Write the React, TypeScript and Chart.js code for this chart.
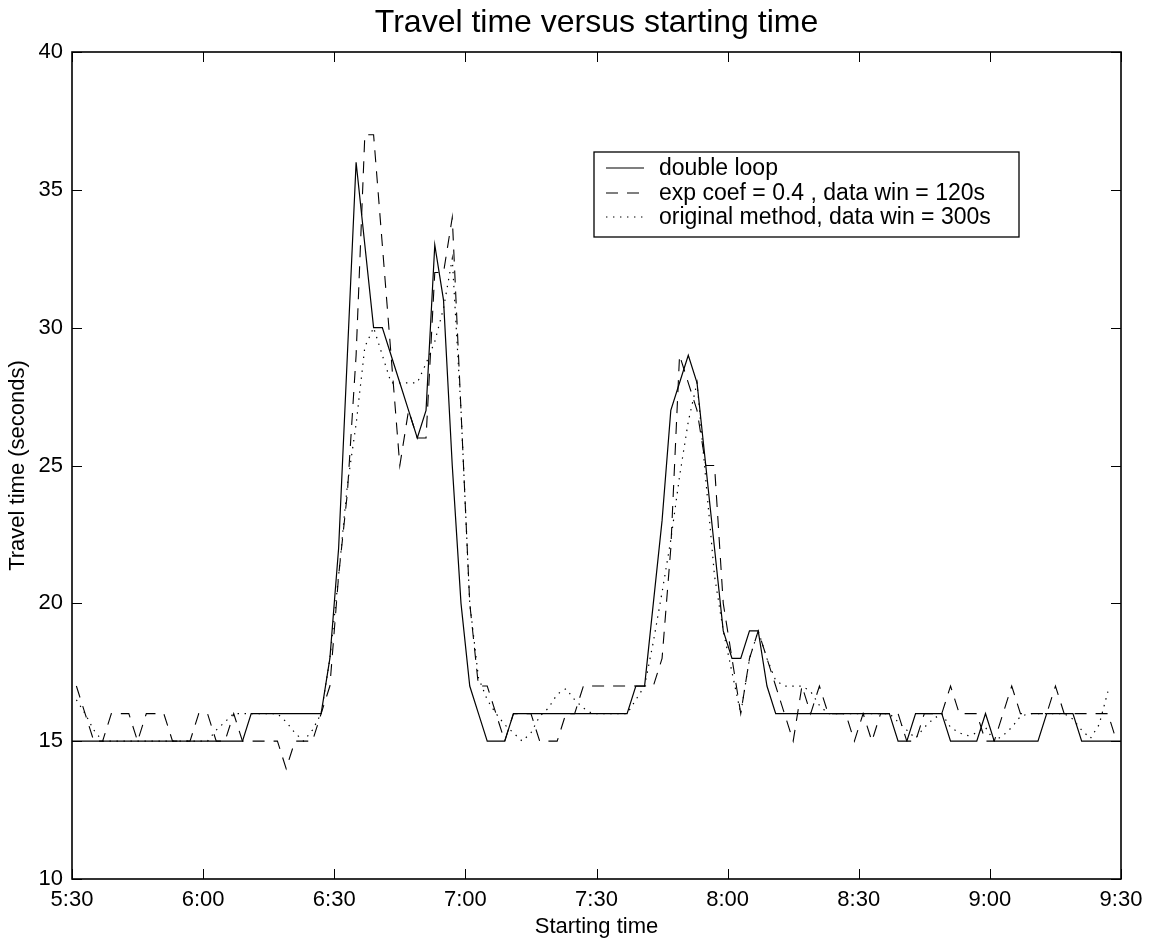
import React, { useEffect, useRef } from "react";
import { Chart, registerables } from "chart.js";

Chart.register(...registerables);

const FONT = "'Liberation Sans', Arial, Helvetica, sans-serif";
const TITLE = "Travel time versus starting time";
const X_TITLE = "Starting time";
const Y_TITLE = "Travel time (seconds)";

// sample times (every two minutes)
const times = [
  "5:29","5:31","5:33","5:35","5:37","5:39","5:41","5:43","5:45","5:47","5:49","5:51","5:53","5:55","5:57","5:59",
  "6:01","6:03","6:05","6:07","6:09","6:11","6:13","6:15","6:17","6:19","6:21","6:23","6:25","6:27","6:29",
  "6:31","6:33","6:35","6:37","6:39","6:41","6:43","6:45","6:47","6:49","6:51","6:53","6:55","6:57","6:59",
  "7:01","7:03","7:05","7:07","7:09","7:11","7:13","7:15","7:17","7:19","7:21","7:23","7:25","7:27","7:29",
  "7:31","7:33","7:35","7:37","7:39","7:41","7:43","7:45","7:47","7:49","7:51","7:53","7:55","7:57","7:59",
  "8:01","8:03","8:05","8:07","8:09","8:11","8:13","8:15","8:17","8:19","8:21","8:23","8:25","8:27","8:29",
  "8:31","8:33","8:35","8:37","8:39","8:41","8:43","8:45","8:47","8:49","8:51","8:53","8:55","8:57","8:59",
  "9:01","9:03","9:05","9:07","9:09","9:11","9:13","9:15","9:17","9:19","9:21","9:23","9:25","9:27","9:29","9:31"
];

const doubleLoop = [
  15,
  15,15,15,15,15,15,15,15,15,15,15,15,15,15,15,15,15,15,15,15,
  16,16,16,16,16,16,16,16,16,
  18,22,29,36,33,30,30,29,28,27,26,27,33,31,25,20,17,16,15,15,15,16,
  16,16,16,16,16,16,16,16,16,16,16,16,16,
  17,17,20,23,27,28,29,28,25,22,19,18,18,19,19,17,16,
  16,16,16,16,16,16,16,16,16,16,16,16,16,
  15,15,16,16,16,16,15,15,15,15,16,15,15,15,15,15,15,16,16,16,16,15,15,15,15,15,15
];

const expCoef = [
  null,
  17,16,15,15,16,16,16,15,16,16,16,15,15,15,16,16,15,15,16,15,15,15,15,15,14,15,15,15,16,
  17,21,24,29,37,37,33,29,25,27,26,26,32,32,34,27,20,17,17,16,15,16,
  16,16,15,15,15,16,16,17,17,17,17,17,17,
  17,17,17,18,22,29,28,27,25,25,20,18,16,18,19,18,17,
  16,15,17,16,17,16,16,16,15,16,15,16,16,
  16,15,15,16,16,16,17,16,16,16,15,15,16,17,16,16,16,16,17,16,16,16,16,16,16,15,null
];

const originalMethod = [
  null,
  16.5,16,15.4,15,15,15,15,15,15,15,15,15,15,15,15,15,15.4,15.7,16,16,16,16,16,16,15.7,15.3,15,15.4,16,
  18,21,24.3,26.5,29.3,30,29,28,28,28,28,28.7,29.5,30.7,32.5,27,20,17.3,16.5,16,15.6,15.3,
  15,15.3,15.9,16.2,16.7,16.9,16.5,16.2,16,16,16,16,16,
  16.5,17,18.6,20.4,22.3,24.6,26.6,28,24.5,21,19,17.5,16,18,19,18,17.2,
  17,17,17,16.8,16.3,16,16,16,16,16,16,16,16,
  15.7,15.4,15.1,15.5,15.8,16,15.5,15.3,15.2,15.3,15.5,15,15.2,15.5,15.9,16,16,16,16,16,15.8,15.4,15.1,15.6,16.8,null,null
];

const xTickLabels = ["5:30", "6:00", "6:30", "7:00", "7:30", "8:00", "8:30", "9:00", "9:30"];
const yTickValues = [10, 15, 20, 25, 30, 35, 40];
const legendLabels = [
  "double loop",
  "exp coef = 0.4 , data win = 120s",
  "original method, data win = 300s",
];

const START = "5:30";

function toMinutes(t: string): number {
  const [h, m] = t.split(":").map(Number);
  return h * 60 + m;
}

const x0 = toMinutes(START);
const xTickValues = xTickLabels.map((t) => toMinutes(t) - x0);

function series(vals: (number | null)[]) {
  return times.map((t, i) => ({ x: toMinutes(t) - x0, y: vals[i] }));
}

const DASHES: number[][] = [[], [12, 9], [1.4, 5.6]];
const WIDTHS = [1.2, 1.1, 1.2];

const titlePlugin = {
  id: "customTitle",
  afterDraw(chart: any) {
    const { ctx, chartArea } = chart;
    ctx.save();
    ctx.font = `32px ${FONT}`;
    ctx.fillStyle = "#000";
    ctx.textAlign = "center";
    ctx.textBaseline = "alphabetic";
    ctx.fillText(TITLE, (chartArea.left + chartArea.right) / 2, 32);
    ctx.restore();
  },
};

const framePlugin = {
  id: "frameTicks",
  afterDatasetsDraw(chart: any) {
    const { ctx, chartArea, scales } = chart;
    const { left, right, top, bottom } = chartArea;
    const xs = scales.x;
    const ys = scales.y;
    ctx.save();
    ctx.strokeStyle = "#000";
    ctx.lineWidth = 1;
    ctx.setLineDash([]);
    ctx.beginPath();
    xTickValues.forEach((v) => {
      const px = Math.round(xs.getPixelForValue(v)) + 0.5;
      ctx.moveTo(px, bottom);
      ctx.lineTo(px, bottom - 10);
      ctx.moveTo(px, top);
      ctx.lineTo(px, top + 10);
    });
    yTickValues.forEach((v) => {
      const py = Math.round(ys.getPixelForValue(v)) + 0.5;
      ctx.moveTo(left, py);
      ctx.lineTo(left + 10, py);
      ctx.moveTo(right, py);
      ctx.lineTo(right - 10, py);
    });
    ctx.stroke();
    ctx.lineWidth = 1.6;
    ctx.strokeRect(left, top, right - left, bottom - top);
    ctx.restore();
  },
};

const legendPlugin = {
  id: "boxLegend",
  afterDraw(chart: any) {
    const { ctx } = chart;
    const bx = 594, by = 152, bw = 425, bh = 85;
    ctx.save();
    ctx.fillStyle = "#fff";
    ctx.fillRect(bx, by, bw, bh);
    ctx.strokeStyle = "#000";
    ctx.lineWidth = 1.3;
    ctx.setLineDash([]);
    ctx.strokeRect(bx, by, bw, bh);
    const rows = [168, 193, 217];
    legendLabels.forEach((label, i) => {
      ctx.beginPath();
      ctx.setLineDash(DASHES[i]);
      ctx.lineWidth = WIDTHS[i];
      ctx.moveTo(606, rows[i]);
      ctx.lineTo(644, rows[i]);
      ctx.stroke();
      ctx.setLineDash([]);
      ctx.fillStyle = "#000";
      ctx.font = `23px ${FONT}`;
      ctx.textAlign = "left";
      ctx.textBaseline = "middle";
      ctx.fillText(label, 659, rows[i] + 1);
    });
    ctx.restore();
  },
};

export default function App() {
  const canvasRef = useRef<HTMLCanvasElement | null>(null);

  useEffect(() => {
    if (!canvasRef.current) return;
    const datasets = [doubleLoop, expCoef, originalMethod].map((vals, i) => ({
      label: legendLabels[i],
      data: series(vals),
      borderColor: "#000",
      backgroundColor: "#000",
      borderWidth: WIDTHS[i],
      borderDash: DASHES[i],
      borderCapStyle: "butt" as const,
      pointRadius: 0,
      tension: 0,
      fill: false,
    }));

    const chart = new Chart(canvasRef.current, {
      type: "line",
      data: { datasets },
      options: {
        animation: false,
        responsive: false,
        layout: { padding: { left: 0, top: 52, right: 35, bottom: 0 } },
        plugins: {
          legend: { display: false },
          title: { display: false },
          tooltip: { enabled: false },
        },
        scales: {
          x: {
            type: "linear",
            min: 0,
            max: 240,
            afterFit: (s: any) => {
              s.height = 65;
            },
            afterBuildTicks: (s: any) => {
              s.ticks = xTickValues.map((v) => ({ value: v }));
            },
            grid: { display: false, drawTicks: false },
            border: { display: false },
            ticks: {
              padding: 8,
              color: "#000",
              font: { family: FONT, size: 22 },
              maxRotation: 0,
              autoSkip: false,
              callback: (v: any) => {
                const idx = xTickValues.indexOf(Number(v));
                return idx >= 0 ? xTickLabels[idx] : "";
              },
            },
            title: {
              display: true,
              text: X_TITLE,
              color: "#000",
              font: { family: FONT, size: 22 },
              padding: { top: 0, bottom: 4 },
            },
          },
          y: {
            type: "linear",
            min: 10,
            max: 40,
            afterFit: (s: any) => {
              s.width = 72;
            },
            afterBuildTicks: (s: any) => {
              s.ticks = yTickValues.map((v) => ({ value: v }));
            },
            grid: { display: false, drawTicks: false },
            border: { display: false },
            ticks: {
              padding: 9,
              color: "#000",
              font: { family: FONT, size: 22 },
            },
            title: {
              display: true,
              text: Y_TITLE,
              color: "#000",
              font: { family: FONT, size: 22 },
              padding: { top: 5, bottom: 0 },
            },
          },
        },
      },
      plugins: [framePlugin, legendPlugin, titlePlugin],
    });
    return () => chart.destroy();
  }, []);

  return (
    <div style={{ position: "absolute", left: 0, top: 0, width: 1156, height: 944, background: "#fff" }}>
      <canvas ref={canvasRef} width={1156} height={944} style={{ display: "block" }} />
    </div>
  );
}
